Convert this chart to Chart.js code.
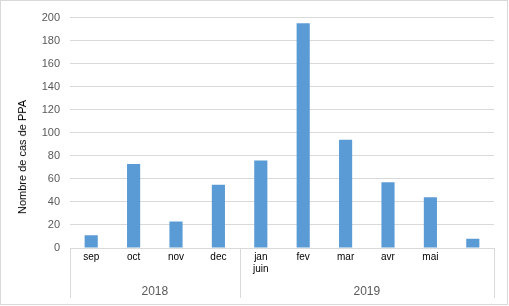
<!DOCTYPE html>
<html>
<head>
<meta charset="utf-8">
<script src="https://cdn.jsdelivr.net/npm/chart.js@4/dist/chart.umd.min.js"></script>
<style>
  body { margin: 0; background: #fff; }
  #wrap { position: relative; width: 506px; height: 303px; border: 1px solid #d9d9d9; overflow: hidden; }
  #yTitle {
    position: absolute; left: 21px; top: 156px;
    transform: translate(-50%, -50%) rotate(-90deg);
    font: 11px "Liberation Sans", Arial, sans-serif; color: #000; white-space: nowrap;
  }
</style>
</head>
<body>
<div id="wrap">
  <canvas id="chart" width="506" height="303"></canvas>
  <div id="yTitle">Nombre de cas de PPA</div>
</div>
<script>
// months (the "juin" label sits under jan in the original)
const monthLabels = ['sep', 'oct', 'nov', 'dec', ['jan', 'juin'], 'fev', 'mar', 'avr', 'mai', ''];
const casPPA = [11, 73, 23, 55, 76, 195, 94, 57, 44, 8];
const yearLabels = ['2018', '2019'];
const yearCenters = [1.5, 6.5];
const yearBounds = [-0.5, 3.5, 9.5];

const gridGrey = '#d9d9d9';
const textGrey = '#595959';

// draws the group separators under the month axis
const yearDividers = {
  id: 'yearDividers',
  afterDraw(chart) {
    const ctx = chart.ctx;
    const x2 = chart.scales.x2;
    const top = chart.chartArea.bottom;
    ctx.save();
    ctx.strokeStyle = gridGrey;
    ctx.lineWidth = 1;
    yearBounds.forEach(function (b) {
      const px = Math.round(x2.getPixelForValue(b)) + 0.5;
      ctx.beginPath();
      ctx.moveTo(px, top);
      ctx.lineTo(px, x2.bottom);
      ctx.stroke();
    });
    ctx.restore();
  }
};

new Chart(document.getElementById('chart').getContext('2d'), {
  type: 'bar',
  data: {
    labels: monthLabels,
    datasets: [{
      data: casPPA,
      backgroundColor: '#5b9bd5',
      barPercentage: 0.31,
      categoryPercentage: 1
    }]
  },
  plugins: [yearDividers],
  options: {
    responsive: false,
    animation: false,
    layout: { padding: { top: 14, right: 13, bottom: 6, left: 0 } },
    plugins: { legend: { display: false }, tooltip: { enabled: false } },
    scales: {
      x: {
        grid: { display: false, drawTicks: false },
        border: { display: true, color: gridGrey },
        ticks: {
          color: '#000',
          font: { family: 'Liberation Sans', size: 10 },
          padding: 3,
          maxRotation: 0,
          autoSkip: false
        },
        afterFit(scale) { scale.height = 28; }
      },
      x2: {
        type: 'linear',
        position: 'bottom',
        offset: false,
        min: -0.5,
        max: 9.5,
        grid: { display: false, drawTicks: false },
        border: { display: false },
        afterBuildTicks(scale) {
          scale.ticks = yearCenters.map(function (v) { return { value: v }; });
        },
        ticks: {
          color: textGrey,
          font: { family: 'Liberation Sans', size: 12 },
          padding: 8,
          maxRotation: 0,
          callback: function (v) { return yearLabels[yearCenters.indexOf(v)]; }
        },
        afterFit(scale) { scale.height = 22; }
      },
      y: {
        min: 0,
        max: 200,
        grid: { color: gridGrey, drawTicks: false },
        border: { display: false },
        ticks: {
          stepSize: 20,
          color: textGrey,
          font: { family: 'Liberation Sans', size: 11 },
          padding: 10
        },
        afterFit(scale) { scale.width = 69; }
      }
    }
  }
});
</script>
</body>
</html>
